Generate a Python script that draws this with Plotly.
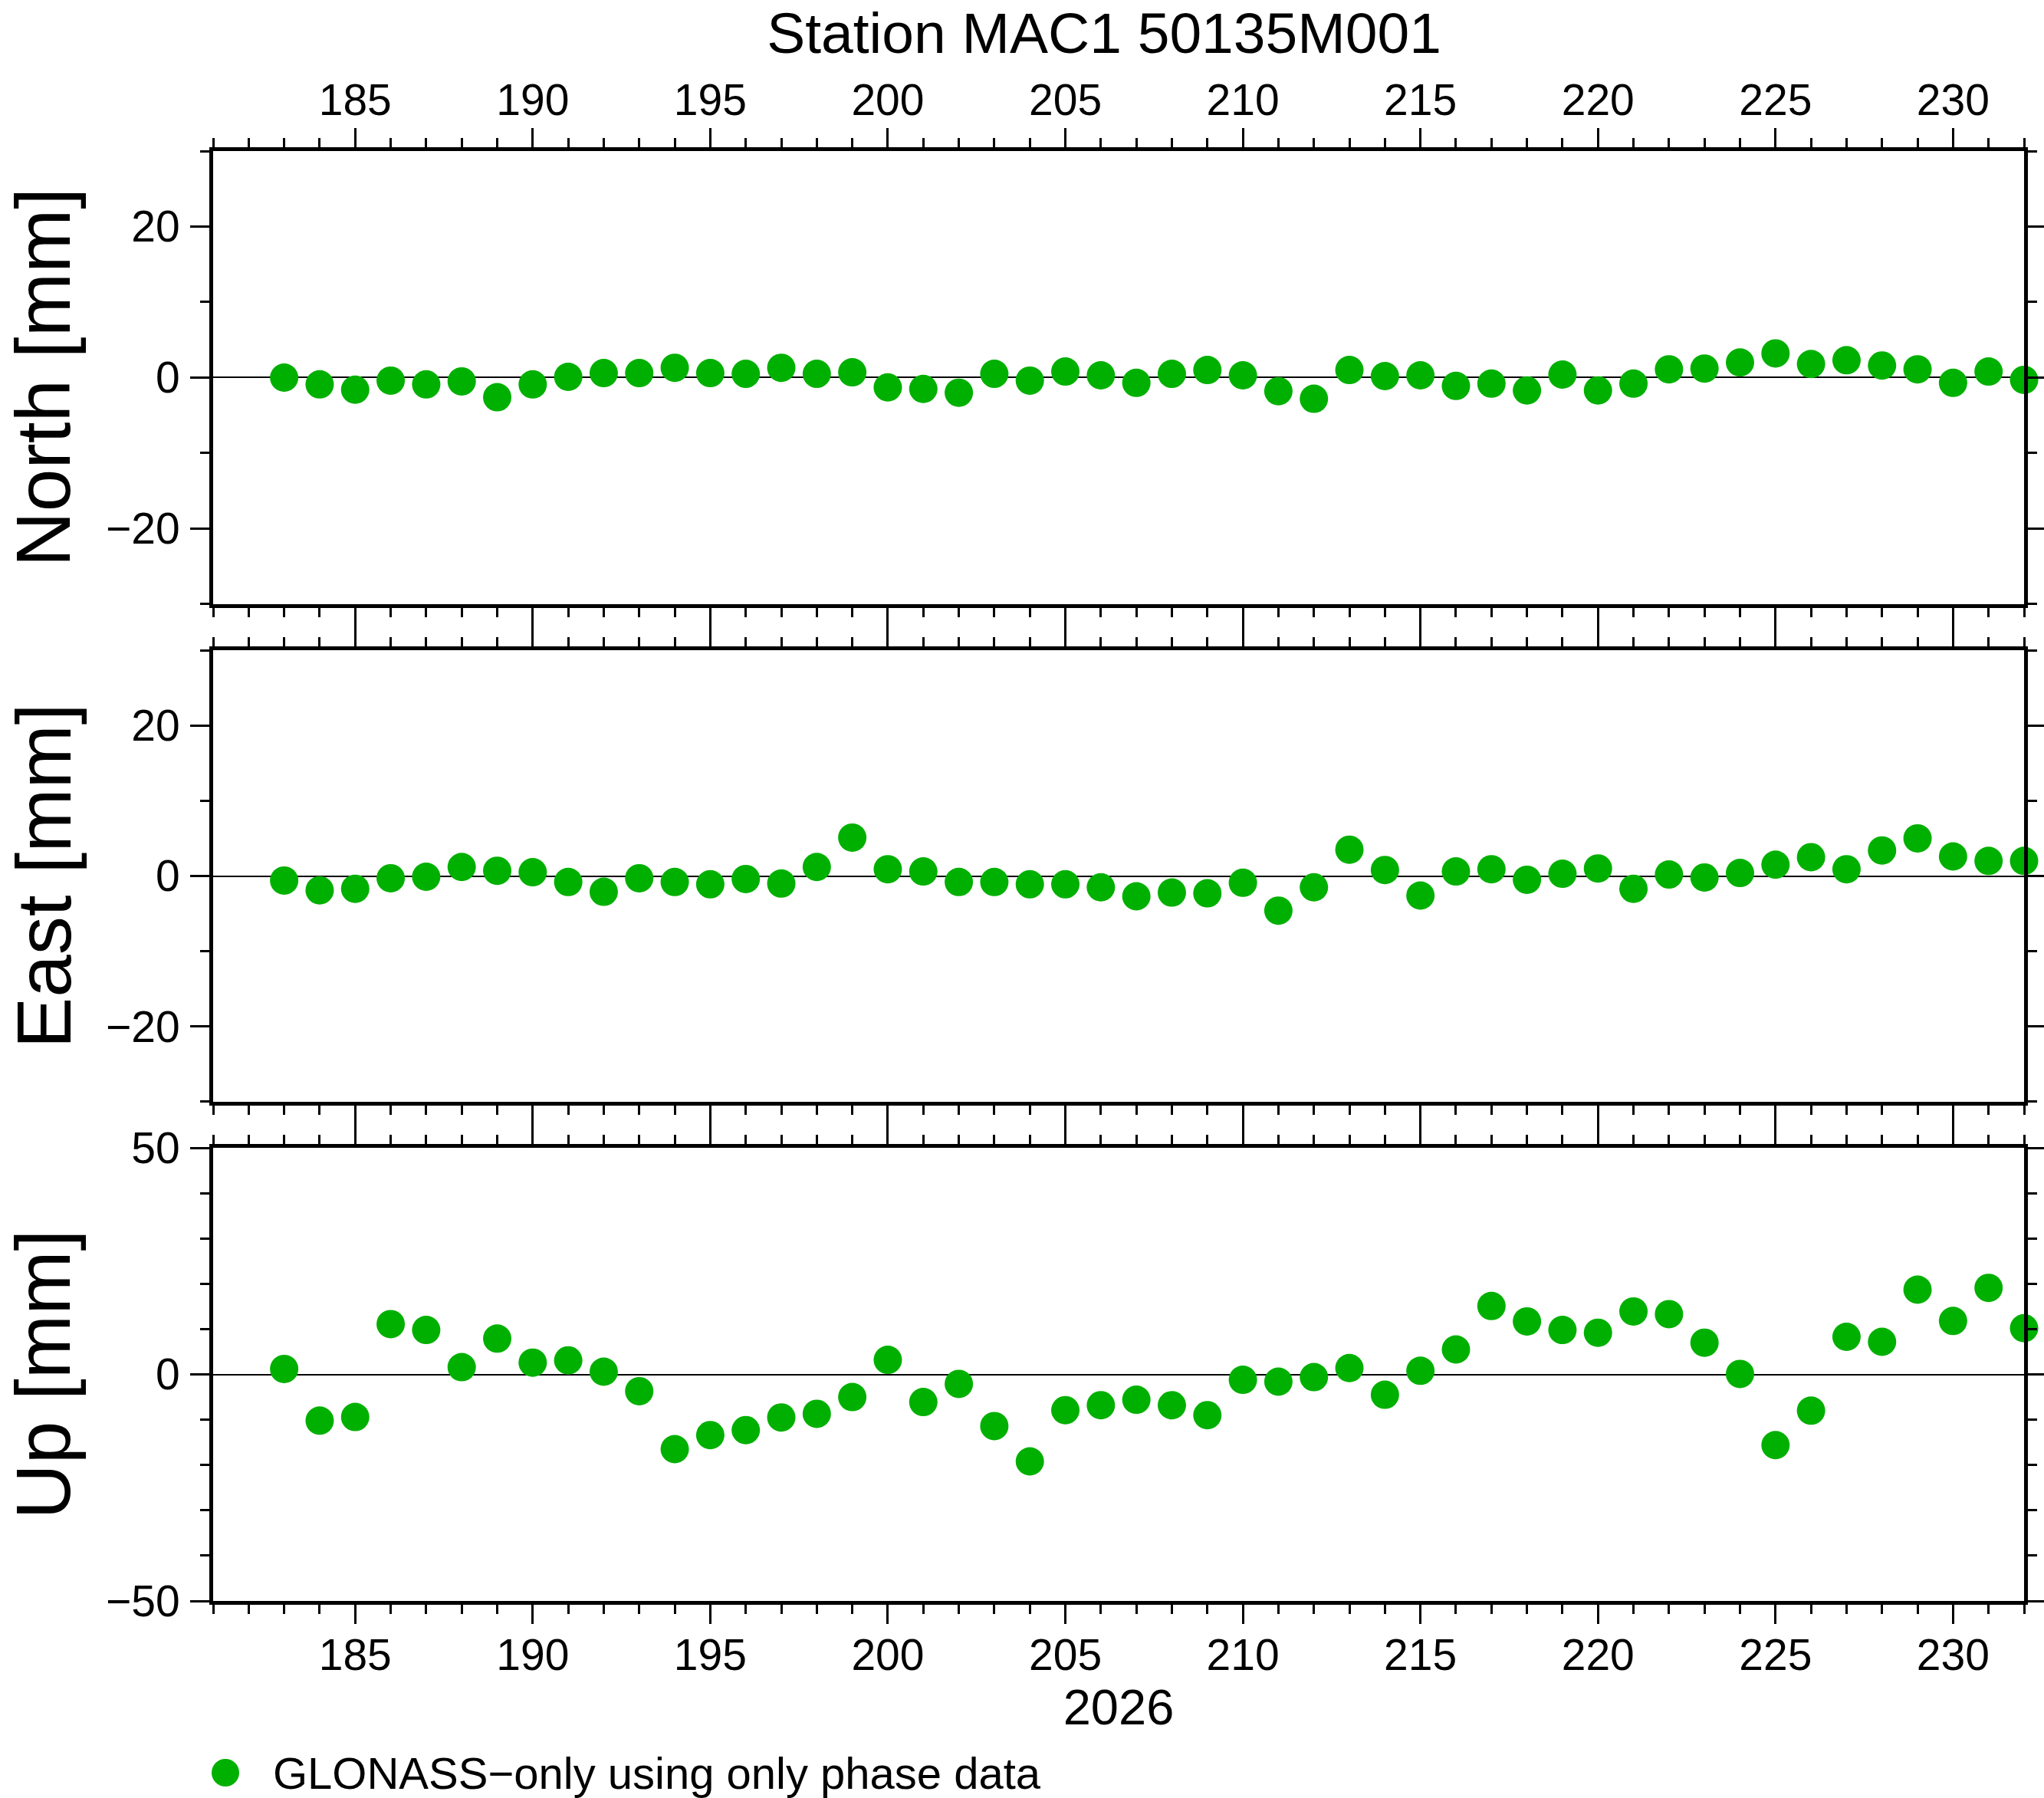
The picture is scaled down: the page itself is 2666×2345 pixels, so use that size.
import plotly.graph_objects as go
from plotly.subplots import make_subplots

# ---- data ----
days = list(range(183, 233))
north = [0.0, -0.9, -1.6, -0.4, -0.9, -0.5, -2.6, -0.9, 0.1, 0.6,
         0.6, 1.3, 0.6, 0.5, 1.3, 0.5, 0.7, -1.3, -1.5, -2.0,
         0.5, -0.4, 0.8, 0.3, -0.7, 0.5, 1.0, 0.3, -1.8, -2.8,
         1.0, 0.2, 0.3, -1.1, -0.8, -1.7, 0.4, -1.7, -0.8, 1.1,
         1.2, 2.0, 3.2, 1.8, 2.3, 1.6, 1.1, -0.7, 0.8, -0.3]
east = [-0.6, -1.9, -1.7, -0.3, -0.1, 1.2, 0.7, 0.5, -0.8, -2.1,
        -0.3, -0.8, -1.1, -0.4, -1.0, 1.2, 5.1, 0.9, 0.6, -0.8,
        -0.8, -1.1, -1.1, -1.5, -2.7, -2.2, -2.3, -0.9, -4.6, -1.5,
        3.5, 0.8, -2.6, 0.6, 0.9, -0.5, 0.3, 1.0, -1.7, 0.2,
        -0.2, 0.4, 1.5, 2.5, 0.9, 3.4, 5.0, 2.6, 2.0, 2.0]
up = [1.2, -10.2, -9.4, 11.1, 9.8, 1.6, 7.9, 2.6, 3.1, 0.6,
      -3.7, -16.5, -13.4, -12.3, -9.5, -8.7, -5.0, 3.2, -6.1, -2.1,
      -11.4, -19.2, -7.9, -6.8, -5.6, -6.8, -9.0, -1.2, -1.6, -0.6,
      1.4, -4.5, 0.8, 5.5, 15.1, 11.7, 9.8, 9.2, 13.9, 13.3,
      7.0, 0.1, -15.6, -8.0, 8.3, 7.2, 18.7, 11.8, 19.1, 10.2]

components = ["North [mm]", "East [mm]", "Up [mm]"]
series = [north, east, up]
y_ranges = [[-30, 30], [-30, 30], [-50, 50]]
y_dticks = [20, 20, 50]
x_range = [181, 232]
year_label = "2026"
title_text = "Station MAC1 50135M001"
legend_text = "GLONASS\u2212only using only phase data"

GREEN = "rgb(0,176,0)"
FONT = "Liberation Sans, Arial, Helvetica, sans-serif"

fig = make_subplots(rows=3, cols=1)

for i, vals in enumerate(series):
    fig.add_trace(go.Scatter(x=days, y=vals, mode="markers",
                             marker=dict(color=GREEN, size=37, line=dict(width=0)),
                             cliponaxis=False, showlegend=False,
                             name=legend_text), row=i + 1, col=1)

domains = [[0.6875, 1.0], [0.3443, 0.6557], [0.0, 0.3125]]
PLOT_W = 2666 - 278 - 26

for i in range(3):
    n = "" if i == 0 else str(i + 1)
    xa = dict(range=x_range, domain=[0, 1], showgrid=False, zeroline=False,
              automargin=False,
              tickmode="linear", tick0=0, dtick=5,
              ticks="outside", ticklen=25, tickwidth=3, tickcolor="black",
              showline=True, linewidth=5, linecolor="black", mirror="allticks",
              minor=dict(dtick=1, tick0=0, ticks="outside", ticklen=12,
                         tickwidth=3, tickcolor="black", showgrid=False),
              tickfont=dict(family=FONT, size=57, color="black"),
              anchor="y" + n)
    if i == 0:
        xa.update(side="top", showticklabels=True, ticklabelstandoff=-6)
    elif i == 1:
        xa.update(showticklabels=False)
    else:
        xa.update(side="bottom", showticklabels=True, ticklabelstandoff=-8,
                  title=dict(text=year_label, font=dict(family=FONT, size=65, color="black"),
                             standoff=2))
    fig.layout["xaxis" + n] = xa

    ya = dict(range=y_ranges[i], domain=domains[i], showgrid=False,
              automargin=False,
              zeroline=True, zerolinecolor="black", zerolinewidth=1.5,
              tickmode="linear", tick0=0, dtick=y_dticks[i],
              ticks="outside", ticklen=25, tickwidth=3, tickcolor="black",
              showline=True, linewidth=5, linecolor="black", mirror="allticks",
              minor=dict(dtick=10, tick0=0, ticks="outside", ticklen=12,
                         tickwidth=3, tickcolor="black", showgrid=False),
              tickfont=dict(family=FONT, size=57, color="black"),
              ticklabelstandoff=2,
              anchor="x" + n)
    fig.layout["yaxis" + n] = ya

    # component label to the left of each panel
    fig.add_annotation(text=components[i], xref="paper", yref="paper",
                       x=(56 - 278) / PLOT_W, y=sum(domains[i]) / 2,
                       xanchor="center", yanchor="middle", textangle=-90,
                       showarrow=False,
                       font=dict(family=FONT, size=100, color="black"))

# legend drawn as symbol + text below the plots
fig.add_shape(type="circle", xref="paper", yref="paper",
              xsizemode="pixel", ysizemode="pixel",
              xanchor=(294 - 278) / PLOT_W, yanchor=(2088 - 2312) / 1891,
              x0=-18, x1=18, y0=-18, y1=18,
              fillcolor=GREEN, line=dict(width=0))
fig.add_annotation(text=legend_text, xref="paper", yref="paper",
                   x=(354 - 278) / PLOT_W, y=(2088 - 2312) / 1891,
                   xanchor="left", yanchor="middle", showarrow=False,
                   font=dict(family=FONT, size=58, color="black"))

fig.update_layout(
    width=2666, height=2345, autosize=False,
    margin=dict(l=278, r=26, t=197, b=257, pad=0, autoexpand=False),
    paper_bgcolor="white", plot_bgcolor="white",
    showlegend=False,
    title=dict(text=title_text, x=1440 / 2666, xanchor="center",
               y=1 - 43 / 2345, yanchor="middle", yref="container",
               font=dict(family=FONT, size=75, color="black")),
)

fig.write_html("out.html",
               config={"displayModeBar": False},
               post_script="document.body.style.margin='0px';"
                           "document.body.style.overflow='hidden';")
